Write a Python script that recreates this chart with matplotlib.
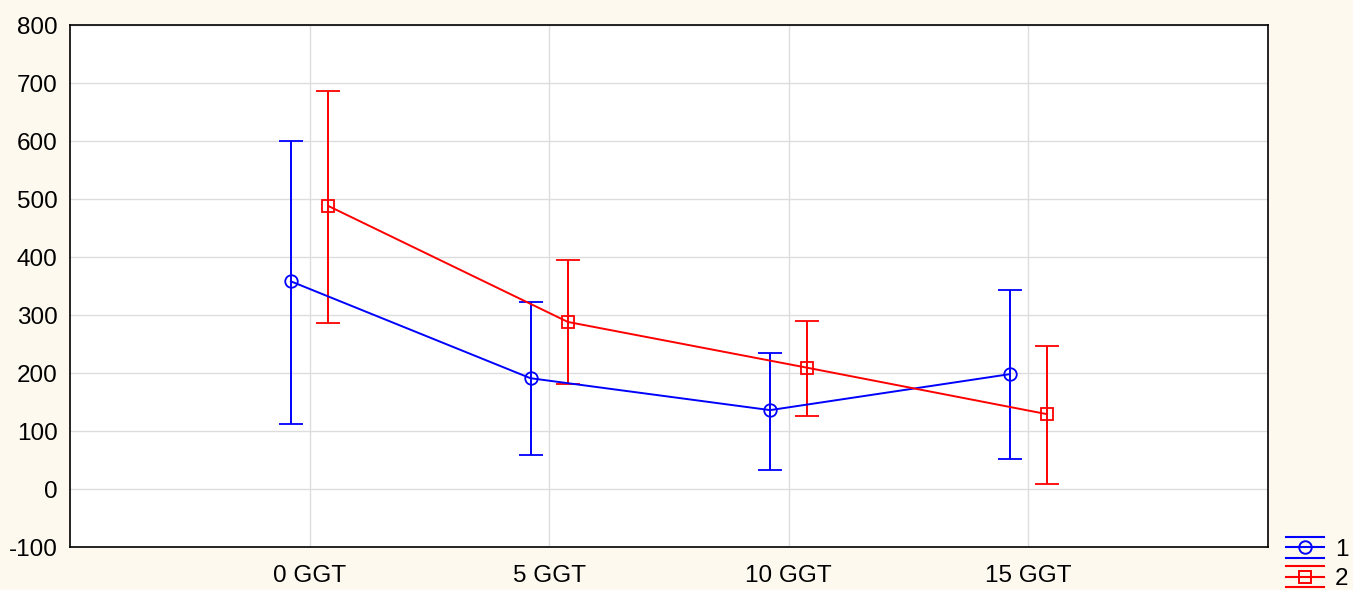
import numpy as np
import matplotlib.pyplot as plt
from matplotlib.lines import Line2D
from matplotlib.legend_handler import HandlerBase

plt.rcParams['font.family'] = ['Liberation Sans', 'DejaVu Sans']
plt.rcParams['axes.unicode_minus'] = False

categories = ['0 GGT', '5 GGT', '10 GGT', '15 GGT']

# group 1
mean_1 = [358, 191, 136, 198]
low_1 = [112, 59, 33, 52]
high_1 = [600, 322, 234, 343]

# group 2
mean_2 = [488, 288, 209, 129]
low_2 = [287, 181, 126, 9]
high_2 = [686, 395, 290, 247]


class StackedHandler(HandlerBase):
    # three horizontal strokes with the marker on the middle one
    def create_artists(self, legend, orig_handle, xdescent, ydescent,
                       width, height, fontsize, trans):
        c = orig_handle.get_color()
        out = []
        for fy in (0.0, 0.5, 1.0):
            y = -ydescent + fy * height
            out.append(Line2D([-xdescent, -xdescent + width], [y, y],
                              color=c, lw=1.5, transform=trans))
        mid = -ydescent + 0.5 * height
        out.append(Line2D([-xdescent + width / 2], [mid], marker=orig_handle.get_marker(),
                          ms=9, mfc='none', mec=c, mew=1.4, ls='none', transform=trans))
        return out


fig = plt.figure(figsize=(13.53, 5.90), dpi=100, facecolor='#fdf9ef')
ax = fig.add_axes([70 / 1353, 43 / 590, 1198 / 1353, 522 / 590])
ax.set_facecolor('white')

x = np.arange(len(categories))
off = 0.078

series = [
    (mean_1, low_1, high_1, -off, '#0000ff', 'o', '1'),
    (mean_2, low_2, high_2, off, '#ff0000', 's', '2'),
]
handles = []
for m, lo, hi, dx, col, mk, lab in series:
    m = np.array(m)
    err = [m - np.array(lo), np.array(hi) - m]
    ax.errorbar(x + dx, m, yerr=err, color=col, lw=1.4, elinewidth=1.4,
                capsize=8.5, capthick=1.4, marker=mk, ms=9, mfc='none',
                mec=col, mew=1.3, zorder=3)
    handles.append(Line2D([], [], color=col, marker=mk, label=lab))

ax.set_xlim(-1, 4)
ax.set_ylim(-100, 800)
ax.set_yticks(np.arange(-100, 801, 100))
ax.set_xticks(x)
ax.set_xticklabels(categories)
ax.tick_params(labelsize=17.5, length=0, colors='black')
ax.tick_params(axis='y', pad=9)
ax.tick_params(axis='x', pad=13)
ax.grid(True, color='#dddddd', lw=1)
ax.set_axisbelow(True)
for s in ax.spines.values():
    s.set_linewidth(1.2)
    s.set_color('black')

fig.legend(handles=handles, labels=['1', '2'],
           handler_map={Line2D: StackedHandler()},
           loc='upper left', bbox_to_anchor=(1286 / 1353, 1 - 537 / 590),
           frameon=False, fontsize=17.5, handlelength=1.57, handleheight=0.95,
           handletextpad=0.45, labelspacing=0.23, borderpad=0, borderaxespad=0)

fig.savefig('out.png', dpi=100, facecolor=fig.get_facecolor())
